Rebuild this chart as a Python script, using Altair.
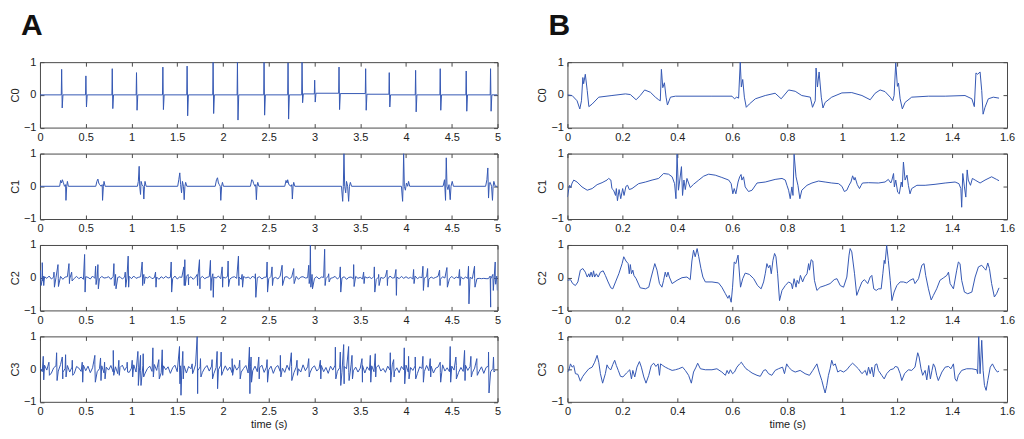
import altair as alt
import pandas as pd

# ---------------- tick values ----------------
X_TICKS_A = [0, 0.5, 1, 1.5, 2, 2.5, 3, 3.5, 4, 4.5, 5]
X_TICKS_B = [0, 0.2, 0.4, 0.6, 0.8, 1.0, 1.2, 1.4, 1.6]
Y_TICKS = [-1, 0, 1]
CHANNELS = ["C0", "C1", "C2", "C3"]
PANEL_LABELS = ["A", "B"]

# ---------------- Panel A (5 s) ----------------
# C0: spike times, peak, trough and baseline level after each spike
a_c0_t = [0.237, 0.502, 0.790, 1.055, 1.343, 1.608, 1.892, 2.158, 2.449, 2.711,
          2.864, 3.002, 3.268, 3.559, 3.817, 4.105, 4.374, 4.658, 4.924]
a_c0_peak = [0.78, 0.58, 0.80, 0.68, 0.85, 0.88, 1.00, 1.00, 1.00, 0.98,
             1.00, 0.45, 0.85, 0.80, 0.68, 0.75, 0.80, 0.73, 0.80]
a_c0_trough = [-0.40, -0.37, -0.42, -0.47, -0.45, -0.64, -0.57, -0.77, -0.62, -0.74,
               -0.24, -0.22, -0.45, -0.47, -0.37, -0.52, -0.47, -0.50, -0.50]
a_c0_base = [0, 0, 0, 0, 0, 0, 0, 0, 0, 0,
             0.03, 0.05, 0.04, 0.02, 0, 0, 0, 0, 0]

# C1: complexes (time, value)
a_c1 = [(0.0, 0.0),
        (0.215, 0.0), (0.226, 0.18), (0.236, 0.10), (0.245, 0.20), (0.255, 0.12), (0.268, 0.0), (0.280, 0.05), (0.284, -0.43), (0.292, 0.0), (0.300, 0.15), (0.310, 0.0),
        (0.610, 0.0), (0.622, 0.15), (0.633, 0.22), (0.642, 0.10), (0.652, 0.05), (0.668, 0.0), (0.680, 0.05), (0.684, -0.43), (0.693, 0.0), (0.700, 0.15), (0.712, 0.0),
        (1.065, 0.0), (1.075, 0.15), (1.084, 0.61), (1.090, 0.0), (1.099, -0.25), (1.105, 0.15), (1.115, 0.05), (1.128, 0.0), (1.135, -0.39), (1.142, 0.0), (1.148, 0.15), (1.160, 0.0),
        (1.505, 0.0), (1.517, 0.20), (1.528, 0.41), (1.537, 0.05), (1.547, -0.20), (1.557, 0.15), (1.568, 0.0), (1.576, -0.41), (1.584, 0.0), (1.592, 0.12), (1.605, 0.0),
        (1.915, 0.0), (1.929, 0.20), (1.940, 0.26), (1.950, 0.10), (1.960, 0.05), (1.970, 0.0), (1.976, -0.43), (1.985, 0.0), (1.994, 0.12), (2.005, 0.0),
        (2.300, 0.0), (2.314, 0.20), (2.325, 0.18), (2.335, 0.08), (2.350, 0.0), (2.358, 0.05), (2.365, -0.41), (2.372, 0.0), (2.380, 0.12), (2.392, 0.0),
        (2.675, 0.0), (2.689, 0.18), (2.700, 0.10), (2.707, 0.20), (2.720, 0.05), (2.745, 0.0), (2.752, 0.05), (2.758, -0.39), (2.766, 0.0), (2.773, 0.12), (2.785, 0.0),
        (3.295, 0.0), (3.308, -0.46), (3.315, 0.0), (3.322, 1.0), (3.330, 0.0), (3.341, -0.20), (3.350, 0.15), (3.362, 0.0), (3.373, -0.46), (3.382, 0.0), (3.392, 0.12), (3.405, 0.0),
        (3.950, 0.0), (3.963, -0.46), (3.968, 0.0), (3.974, 1.0), (3.982, 0.0), (3.993, -0.12), (4.005, 0.10), (4.018, 0.0), (4.028, 0.15), (4.040, 0.0),
        (4.405, 0.0), (4.421, 0.20), (4.432, -0.43), (4.440, 0.87), (4.448, 0.0), (4.458, -0.10), (4.470, 0.05), (4.483, -0.41), (4.492, 0.0), (4.505, 0.15), (4.518, 0.0),
        (4.870, 0.0), (4.884, 0.20), (4.894, 0.56), (4.902, -0.36), (4.910, 0.10), (4.920, 0.12), (4.935, 0.0), (4.945, -0.43), (4.952, 0.0), (4.960, 0.15), (4.975, 0.0), (5.0, 0.0)]

# C2: spikes (time, high, low) + background wiggle every 0.025 s
a_c2_t = [0.007, 0.025, 0.036, 0.153, 0.197, 0.317, 0.346, 0.488, 0.608, 0.633,
          0.808, 0.826, 0.932, 0.964, 1.117, 1.135, 1.263, 1.434, 1.572, 1.583,
          1.619, 1.718, 1.743, 1.863, 1.889, 1.991, 2.056, 2.169, 2.209, 2.354,
          2.482, 2.536, 2.646, 2.773, 2.937, 2.955, 2.973, 3.111, 3.155, 3.282,
          3.428, 3.537, 3.654, 3.701, 3.792, 3.890, 4.083, 4.185, 4.236, 4.367,
          4.447, 4.585, 4.683, 4.749, 4.920, 4.949, 4.975, 4.993]
a_c2_hi = [0.22, 0.46, 0.05, 0.17, 0.40, 0.43, 0.17, 0.71, 0.35, 0.40,
           0.43, 0.10, 0.17, 0.66, 0.48, 0.10, 0.17, 0.48, 0.33, 0.55,
           0.10, 0.10, 0.55, 0.53, 0.12, 0.33, 0.51, 0.66, 0.10, 0.12,
           0.48, 0.33, 0.38, 0.28, 0.38, 1.00, 0.10, 0.87, 0.12, 0.33,
           0.40, 0.17, 0.33, 0.10, 0.23, 0.25, 0.25, 0.35, 0.28, 0.23,
           0.31, 0.25, 0.35, 0.35, 0.05, 0.10, 0.48, 0.05]
a_c2_lo = [-0.24, -0.10, -0.24, -0.29, -0.27, -0.18, -0.10, -0.44, -0.21, -0.34,
           -0.24, -0.34, -0.29, -0.29, -0.24, -0.18, -0.29, -0.44, -0.24, -0.24,
           -0.22, -0.24, -0.34, -0.39, -0.60, -0.29, -0.27, -0.24, -0.29, -0.60,
           -0.44, -0.24, -0.24, -0.18, -0.18, -0.29, -0.34, -0.24, -0.13, -0.44,
           -0.27, -0.18, -0.44, -0.24, -0.24, -0.54, -0.18, -0.39, -0.29, -0.24,
           -0.29, -0.24, -0.80, -0.29, -0.90, -0.39, -0.20, -0.39]
a_c2_bg = [0.04, -0.06, 0.03, -0.02, 0.05, -0.04, 0.02, 0.00, -0.03, 0.04, -0.05, 0.02, 0.03, -0.04, 0.01, -0.02, 0.04, -0.03, 0.02, -0.05,
           0.03, 0.01, -0.04, 0.05, -0.02, 0.02, -0.03, 0.04, -0.01, 0.00, 0.03, -0.05, 0.04, -0.02, 0.01, 0.03, -0.04, 0.02, -0.01, 0.04,
           -0.03, 0.05, -0.02, 0.01, 0.03, -0.04, 0.02, -0.01, 0.04, -0.03, 0.00, 0.02, -0.05, 0.03, -0.02, 0.04, -0.01, 0.01, -0.03, 0.05,
           -0.04, 0.02, 0.01, -0.03, 0.04, -0.02, 0.03, -0.05, 0.02, 0.00, -0.02, 0.04, -0.03, 0.01, 0.03, -0.04, 0.02, -0.01, 0.05, -0.03,
           0.02, -0.01, 0.04, -0.04, 0.01, 0.03, -0.02, 0.02, -0.05, 0.04, -0.01, 0.02, -0.03, 0.05, -0.02, 0.00, 0.03, -0.04, 0.01, 0.02,
           -0.03, 0.04, -0.02, 0.01, -0.04, 0.05, -0.01, 0.02, 0.03, -0.03, 0.01, -0.02, 0.04, -0.05, 0.02, 0.03, -0.01, 0.00, -0.03, 0.04,
           -0.02, 0.03, -0.04, 0.02, 0.01, -0.03, 0.05, -0.02, 0.00, 0.04, -0.04, 0.02, -0.01, 0.03, -0.05, 0.01, 0.02, -0.03, 0.04, -0.02,
           0.01, -0.04, 0.03, -0.01, 0.02, -0.03, 0.04, -0.05, 0.02, 0.01, -0.02, 0.03, -0.04, 0.05, -0.01, 0.00, 0.02, -0.03, 0.04, -0.02,
           0.03, -0.02, 0.01, -0.04, 0.05, -0.03, 0.02, 0.00, -0.01, 0.03, -0.04, 0.02, -0.02, 0.01, 0.04, -0.05, 0.03, -0.01, 0.02, -0.03,
           0.04, -0.03, 0.02, -0.01, 0.03, -0.04, 0.02, -0.02, 0.01, -0.03, -0.02, -0.03, -0.02, -0.03, -0.02, -0.03, -0.03, -0.04, -0.03, -0.02]

# C3: spikes (time, high, low) + background noise every 0.025 s
a_c3_t = [0.036, 0.098, 0.182, 0.244, 0.280, 0.353, 0.462, 0.600, 0.662, 0.706,
          0.801, 0.862, 0.953, 1.008, 1.070, 1.099, 1.128, 1.234, 1.299, 1.336,
          1.525, 1.536, 1.561, 1.663, 1.718, 1.754, 1.881, 1.936, 1.980, 2.100,
          2.183, 2.289, 2.307, 2.391, 2.482, 2.627, 2.747, 2.809, 2.937, 3.064,
          3.228, 3.282, 3.319, 3.373, 3.410, 3.519, 3.610, 3.664, 3.828, 3.865,
          3.981, 4.028, 4.101, 4.185, 4.265, 4.374, 4.483, 4.545, 4.640, 4.709,
          4.774, 4.902, 4.956]
a_c3_hi = [0.39, 0.21, 0.50, 0.37, 0.44, 0.27, 0.21, 0.42, 0.34, 0.21,
           0.57, 0.27, 0.21, 0.27, 0.54, 0.42, 0.47, 0.65, 0.29, 0.59,
           0.69, 0.10, 0.54, 0.16, 1.00, 0.32, 0.29, 0.54, 0.52, 0.32,
           0.27, 0.67, 0.37, 0.37, 0.29, 0.42, 0.50, 0.27, 0.32, 0.27,
           0.67, 0.52, 0.75, 0.69, 0.42, 0.32, 0.42, 0.47, 0.50, 0.29,
           0.65, 0.39, 0.37, 0.39, 0.32, 0.21, 0.69, 0.37, 0.57, 0.39,
           0.32, 0.52, 0.37]
a_c3_lo = [-0.33, -0.19, -0.35, -0.30, -0.24, -0.19, -0.40, -0.40, -0.35, -0.30,
           -0.19, -0.19, -0.09, -0.24, -0.50, -0.50, -0.24, -0.24, -0.30, -0.19,
           -0.45, -0.80, -0.30, -0.14, -0.75, -0.24, -0.30, -0.60, -0.19, -0.19,
           -0.30, -0.75, -0.40, -0.30, -0.40, -0.24, -0.35, -0.19, -0.24, -0.30,
           -0.30, -0.50, -0.45, -0.35, -0.30, -0.40, -0.40, -0.24, -0.40, -0.24,
           -0.45, -0.30, -0.30, -0.40, -0.24, -0.40, -0.40, -0.30, -0.35, -0.24,
           -0.19, -0.73, -0.09]
a_c3_bg = [0.05, -0.08, 0.12, -0.03, 0.09, -0.12, 0.04, 0.10, -0.06, 0.14, -0.10, 0.02, 0.11, -0.09, 0.06, -0.13, 0.08, 0.03, -0.07, 0.12,
           -0.05, 0.09, -0.11, 0.04, 0.13, -0.08, 0.01, 0.10, -0.12, 0.06, -0.03, 0.11, -0.09, 0.07, -0.14, 0.05, 0.12, -0.04, 0.08, -0.10,
           0.03, 0.13, -0.09, 0.06, -0.05, 0.11, -0.12, 0.02, 0.09, -0.07, 0.14, -0.04, 0.05, -0.11, 0.10, -0.02, 0.07, -0.13, 0.04, 0.12,
           -0.08, 0.06, -0.03, 0.10, -0.12, 0.08, 0.01, -0.09, 0.13, -0.05, 0.07, -0.10, 0.03, 0.11, -0.06, 0.09, -0.14, 0.05, -0.02, 0.12,
           -0.07, 0.10, -0.04, 0.06, -0.11, 0.13, -0.03, 0.08, -0.09, 0.02, 0.11, -0.12, 0.07, -0.05, 0.09, -0.08, 0.04, 0.12, -0.10, 0.06,
           -0.02, 0.09, -0.13, 0.05, 0.11, -0.07, 0.03, -0.10, 0.12, -0.04, 0.08, -0.11, 0.06, 0.01, -0.09, 0.13, -0.05, 0.07, -0.12, 0.04,
           0.10, -0.06, 0.02, 0.11, -0.08, 0.05, -0.13, 0.09, -0.03, 0.12, -0.07, 0.04, -0.10, 0.08, 0.01, -0.11, 0.13, -0.05, 0.06, -0.09,
           0.03, 0.11, -0.12, 0.07, -0.04, 0.10, -0.08, 0.05, 0.12, -0.06, 0.02, -0.10, 0.09, -0.03, 0.13, -0.07, 0.04, -0.11, 0.08, -0.02,
           0.12, -0.09, 0.05, -0.04, 0.10, -0.13, 0.07, 0.02, -0.08, 0.11, -0.05, 0.09, -0.12, 0.03, 0.06, -0.10, 0.13, -0.06, 0.04, -0.08,
           0.09, -0.03, 0.11, -0.10, 0.05, -0.07, 0.12, -0.04, 0.08, -0.11, 0.03, 0.10, -0.06, 0.07, -0.13, 0.05, 0.09, -0.08, 0.02, -0.05]
BG_STEP = 0.025

# ---------------- Panel B (1.57 s) ----------------
b_c0 = [(0.000, 0.00), (0.017, -0.02), (0.035, -0.18), (0.045, -0.43), (0.051, -0.18), (0.056, 0.53), (0.059, 0.34), (0.065, 0.63),
        (0.072, 0.13), (0.078, -0.36), (0.090, -0.28), (0.114, -0.07), (0.162, -0.02), (0.211, 0.03), (0.229, 0.01), (0.250, -0.15),
        (0.265, -0.02), (0.281, 0.15), (0.302, 0.08), (0.320, -0.07), (0.332, -0.15), (0.338, -0.18), (0.342, 0.78), (0.347, 0.22),
        (0.353, 0.37), (0.359, -0.07), (0.364, -0.31), (0.375, -0.07), (0.393, -0.04), (0.526, -0.04), (0.599, -0.04), (0.608, -0.12),
        (0.616, -0.07), (0.623, -0.10), (0.629, 1.00), (0.633, 0.24), (0.638, 0.47), (0.644, -0.07), (0.651, -0.38), (0.662, -0.28),
        (0.684, -0.12), (0.720, -0.02), (0.756, 0.05), (0.778, -0.12), (0.805, 0.15), (0.829, 0.11), (0.853, -0.02), (0.884, -0.07),
        (0.892, -0.38), (0.902, -0.18), (0.905, 0.82), (0.910, 0.24), (0.916, 0.70), (0.924, -0.07), (0.930, -0.40), (0.938, -0.23),
        (0.962, -0.07), (0.999, 0.06), (1.035, 0.07), (1.072, -0.02), (1.102, -0.15), (1.120, 0.05), (1.138, 0.15), (1.156, 0.10),
        (1.175, -0.07), (1.184, -0.18), (1.189, -0.02), (1.195, 0.98), (1.201, 0.26), (1.205, 0.36), (1.211, -0.12), (1.219, -0.43),
        (1.229, -0.23), (1.253, -0.07), (1.314, -0.04), (1.375, -0.04), (1.447, -0.02), (1.472, -0.12), (1.481, -0.36), (1.487, 0.67),
        (1.493, 0.63), (1.502, 0.70), (1.508, 0.13), (1.513, -0.59), (1.520, -0.38), (1.532, -0.12), (1.550, -0.07), (1.571, -0.10)]

b_c1 = [(0.000, -0.33), (0.005, -0.07), (0.008, 0.03), (0.012, -0.04), (0.017, 0.10), (0.023, 0.19), (0.035, 0.13), (0.053, -0.02),
        (0.072, -0.12), (0.090, -0.07), (0.108, 0.05), (0.126, 0.11), (0.144, 0.19), (0.150, 0.24), (0.158, 0.19), (0.162, -0.07),
        (0.168, -0.12), (0.175, -0.28), (0.178, -0.07), (0.182, -0.44), (0.188, -0.10), (0.194, -0.38), (0.201, -0.07), (0.206, -0.28),
        (0.213, 0.00), (0.219, 0.03), (0.225, -0.10), (0.235, -0.07), (0.259, 0.08), (0.284, 0.13), (0.308, 0.19), (0.332, 0.24),
        (0.350, 0.39), (0.368, 0.37), (0.381, 0.29), (0.390, 0.08), (0.395, -0.38), (0.399, 0.98), (0.404, -0.12), (0.408, 0.13),
        (0.415, 0.60), (0.419, -0.28), (0.424, 0.19), (0.429, -0.10), (0.435, 0.24), (0.447, -0.04), (0.459, 0.06), (0.478, 0.19),
        (0.496, 0.31), (0.514, 0.37), (0.538, 0.34), (0.562, 0.27), (0.587, 0.19), (0.596, 0.08), (0.602, -0.23), (0.607, -0.07),
        (0.613, -0.23), (0.621, 0.13), (0.627, 0.29), (0.632, 0.36), (0.635, 0.19), (0.641, 0.29), (0.647, -0.02), (0.659, -0.16),
        (0.672, -0.12), (0.690, 0.10), (0.720, 0.13), (0.756, 0.21), (0.781, 0.24), (0.793, 0.19), (0.799, 0.03), (0.805, -0.12),
        (0.811, -0.38), (0.817, -0.02), (0.821, -0.28), (0.825, 0.98), (0.832, 0.29), (0.839, 0.03), (0.846, -0.38), (0.853, -0.12),
        (0.872, 0.03), (0.890, 0.10), (0.914, 0.16), (0.938, 0.13), (0.962, 0.10), (0.987, 0.08), (0.999, 0.00), (1.008, -0.16),
        (1.017, -0.12), (1.025, 0.03), (1.032, 0.13), (1.038, 0.32), (1.044, 0.19), (1.047, 0.27), (1.055, 0.05), (1.063, -0.07),
        (1.069, 0.03), (1.074, 0.10), (1.096, 0.11), (1.132, 0.10), (1.156, 0.13), (1.168, 0.21), (1.177, 0.10), (1.181, 0.19),
        (1.187, 0.39), (1.190, -0.02), (1.195, 0.19), (1.202, -0.18), (1.208, -0.23), (1.215, 0.13), (1.219, -0.02), (1.223, 0.74),
        (1.229, 0.19), (1.236, 0.34), (1.241, 0.03), (1.247, -0.23), (1.253, -0.07), (1.272, 0.03), (1.302, 0.03), (1.338, 0.06),
        (1.375, 0.10), (1.411, 0.13), (1.425, 0.08), (1.432, -0.07), (1.435, -0.64), (1.439, 0.39), (1.445, -0.02), (1.450, -0.33),
        (1.455, 0.50), (1.459, 0.19), (1.467, 0.03), (1.474, 0.24), (1.484, 0.19), (1.502, 0.10), (1.520, 0.19), (1.544, 0.29),
        (1.562, 0.21), (1.571, 0.17)]

b_c2 = [(0.000, -0.08), (0.011, -0.06), (0.019, -0.18), (0.029, -0.24), (0.038, -0.13), (0.047, 0.23), (0.056, 0.28), (0.065, 0.17),
        (0.072, 0.02), (0.078, 0.12), (0.081, 0.02), (0.086, 0.17), (0.091, 0.02), (0.095, 0.21), (0.099, 0.02), (0.105, 0.12),
        (0.112, 0.02), (0.120, 0.17), (0.130, 0.21), (0.138, 0.07), (0.148, -0.13), (0.158, -0.31), (0.165, -0.34), (0.175, -0.13),
        (0.187, 0.12), (0.199, 0.43), (0.205, 0.64), (0.213, 0.51), (0.221, 0.43), (0.225, 0.12), (0.229, 0.40), (0.233, 0.12),
        (0.238, 0.23), (0.242, 0.07), (0.250, -0.03), (0.265, -0.31), (0.284, -0.34), (0.296, -0.29), (0.305, 0.02), (0.318, 0.43),
        (0.326, 0.23), (0.335, -0.18), (0.344, -0.29), (0.350, -0.08), (0.356, 0.17), (0.361, 0.02), (0.366, 0.17), (0.371, 0.02),
        (0.381, -0.18), (0.399, -0.08), (0.417, 0.00), (0.435, 0.02), (0.447, -0.06), (0.453, 0.51), (0.459, 0.84), (0.465, 0.64),
        (0.472, 0.89), (0.478, 0.64), (0.486, 0.28), (0.493, 0.02), (0.502, -0.13), (0.526, -0.13), (0.550, -0.16), (0.562, -0.29),
        (0.575, -0.49), (0.584, -0.63), (0.589, -0.54), (0.596, -0.75), (0.601, -0.29), (0.607, 0.48), (0.613, 0.43), (0.621, 0.69),
        (0.627, 0.02), (0.630, -0.29), (0.638, -0.03), (0.647, 0.14), (0.662, 0.10), (0.678, -0.03), (0.692, -0.24), (0.705, -0.34),
        (0.714, -0.13), (0.720, 0.12), (0.726, 0.43), (0.732, 0.30), (0.737, 0.38), (0.742, 0.12), (0.748, 0.53), (0.754, 0.74),
        (0.759, 0.64), (0.765, 0.12), (0.772, -0.70), (0.781, -0.39), (0.793, -0.24), (0.805, -0.13), (0.815, -0.18), (0.819, -0.34),
        (0.825, -0.03), (0.832, -0.29), (0.836, -0.08), (0.842, -0.18), (0.848, 0.07), (0.856, -0.13), (0.863, 0.02), (0.872, 0.12),
        (0.878, 0.43), (0.881, 0.23), (0.887, 0.55), (0.893, 0.51), (0.899, -0.08), (0.908, -0.39), (0.920, -0.29), (0.938, -0.24),
        (0.956, -0.18), (0.971, -0.06), (0.981, -0.03), (0.993, -0.24), (1.005, -0.29), (1.017, 0.02), (1.025, 0.69), (1.029, 0.89),
        (1.035, 0.79), (1.045, 0.12), (1.053, -0.54), (1.062, -0.34), (1.072, -0.13), (1.081, -0.06), (1.093, -0.18), (1.102, 0.02),
        (1.108, 0.07), (1.115, -0.34), (1.124, -0.39), (1.132, -0.34), (1.142, -0.34), (1.148, 0.12), (1.153, 0.53), (1.156, 0.43),
        (1.162, 0.99), (1.168, 0.53), (1.175, -0.08), (1.181, -0.70), (1.189, -0.44), (1.199, -0.24), (1.211, -0.13), (1.223, -0.13),
        (1.235, -0.16), (1.247, -0.08), (1.259, -0.03), (1.265, -0.18), (1.278, -0.03), (1.290, 0.38), (1.298, 0.43), (1.304, 0.07),
        (1.314, -0.34), (1.324, -0.68), (1.332, -0.54), (1.344, -0.34), (1.356, -0.08), (1.368, -0.01), (1.381, 0.07), (1.387, 0.17),
        (1.393, -0.18), (1.405, -0.34), (1.417, 0.23), (1.423, 0.48), (1.429, 0.43), (1.435, -0.08), (1.445, -0.44), (1.457, -0.49),
        (1.472, -0.44), (1.484, 0.02), (1.496, 0.33), (1.508, 0.38), (1.518, 0.28), (1.523, 0.23), (1.530, 0.45), (1.536, 0.28),
        (1.544, -0.18), (1.554, -0.59), (1.562, -0.49), (1.571, -0.31)]

b_c3 = [(0.000, -0.09), (0.005, -0.04), (0.011, 0.16), (0.017, 0.06), (0.023, 0.11), (0.029, -0.14), (0.038, -0.16), (0.047, -0.37),
        (0.056, -0.22), (0.065, -0.12), (0.078, 0.01), (0.090, 0.06), (0.099, 0.21), (0.108, 0.42), (0.114, 0.21), (0.120, -0.14),
        (0.128, -0.43), (0.138, -0.14), (0.144, 0.13), (0.150, 0.03), (0.158, -0.02), (0.165, 0.14), (0.172, 0.27), (0.178, 0.11),
        (0.185, -0.04), (0.193, -0.22), (0.202, -0.24), (0.215, -0.12), (0.227, -0.02), (0.233, -0.30), (0.238, -0.04), (0.245, -0.24),
        (0.253, 0.06), (0.262, 0.23), (0.269, 0.06), (0.278, -0.24), (0.286, -0.43), (0.296, -0.19), (0.305, 0.11), (0.314, 0.18),
        (0.322, 0.08), (0.330, 0.16), (0.335, -0.19), (0.339, 0.16), (0.347, 0.11), (0.356, 0.06), (0.368, 0.01), (0.381, -0.04),
        (0.393, -0.02), (0.405, 0.01), (0.419, 0.06), (0.429, -0.04), (0.441, -0.19), (0.451, -0.43), (0.459, -0.09), (0.468, 0.06),
        (0.474, 0.18), (0.484, 0.01), (0.502, -0.02), (0.526, -0.02), (0.544, 0.01), (0.562, -0.09), (0.575, -0.19), (0.581, -0.04),
        (0.587, -0.14), (0.593, -0.02), (0.601, -0.14), (0.608, -0.09), (0.617, 0.06), (0.627, 0.16), (0.633, 0.21), (0.641, 0.11),
        (0.650, 0.01), (0.659, -0.04), (0.672, -0.12), (0.690, -0.19), (0.702, -0.22), (0.714, -0.04), (0.722, -0.02), (0.732, -0.14),
        (0.744, -0.19), (0.756, -0.04), (0.768, 0.01), (0.783, 0.06), (0.790, -0.14), (0.798, 0.16), (0.805, 0.06), (0.817, -0.04),
        (0.829, -0.09), (0.847, -0.04), (0.865, -0.14), (0.881, -0.19), (0.893, -0.04), (0.908, 0.16), (0.916, -0.09), (0.926, -0.35),
        (0.932, -0.55), (0.938, -0.73), (0.944, -0.50), (0.950, -0.19), (0.956, 0.01), (0.962, 0.27), (0.968, 0.11), (0.975, 0.16),
        (0.984, -0.09), (0.993, -0.04), (1.005, -0.09), (1.017, -0.02), (1.029, 0.11), (1.038, 0.18), (1.047, 0.11), (1.059, 0.01),
        (1.072, -0.14), (1.084, -0.04), (1.090, -0.19), (1.096, 0.06), (1.102, -0.14), (1.108, 0.06), (1.114, -0.24), (1.120, 0.13),
        (1.126, 0.16), (1.132, -0.04), (1.144, -0.19), (1.153, -0.30), (1.162, -0.14), (1.175, -0.02), (1.187, 0.01), (1.193, 0.08),
        (1.202, 0.06), (1.211, -0.14), (1.217, -0.35), (1.227, -0.14), (1.241, -0.02), (1.253, -0.04), (1.265, 0.06), (1.275, 0.50),
        (1.280, 0.37), (1.287, 0.01), (1.293, -0.19), (1.302, -0.04), (1.308, -0.33), (1.315, 0.11), (1.321, -0.30), (1.327, -0.04),
        (1.332, 0.16), (1.338, 0.06), (1.344, -0.19), (1.350, -0.35), (1.363, -0.09), (1.375, 0.06), (1.387, 0.08), (1.396, 0.01),
        (1.405, 0.16), (1.411, -0.30), (1.417, -0.37), (1.423, -0.19), (1.435, -0.04), (1.453, 0.01), (1.472, 0.01), (1.490, -0.02),
        (1.493, -0.14), (1.497, 1.00), (1.502, -0.14), (1.508, 0.88), (1.513, -0.04), (1.518, -0.50), (1.524, -0.65), (1.530, -0.35),
        (1.539, 0.06), (1.547, 0.16), (1.556, 0.01), (1.565, -0.09), (1.571, -0.06)]


# ---------------- table builders ----------------
def table_c0(ts, peaks, troughs, bases, t_end):
    rows = [(0.0, 0.0)]
    prev = 0.0
    for t, pk, tr, b in zip(ts, peaks, troughs, bases):
        rows += [(t - 0.004, prev), (t, pk), (t + 0.006, tr), (t + 0.014, b)]
        prev = b
    rows.append((t_end, prev))
    return pd.DataFrame(rows, columns=["t", "v"])


def table_spikes(ts, his, los, bg, step):
    rows = [(i * step, v) for i, v in enumerate(bg)]
    for t, h, l in zip(ts, his, los):
        rows += [(t, h), (t + 0.005, l)]
    rows.sort(key=lambda r: r[0])
    return pd.DataFrame(rows, columns=["t", "v"])


def table_pairs(pairs):
    return pd.DataFrame(pairs, columns=["t", "v"])


LINE_COLOR = "#3558b4"
FRAME = "#4a4a4a"
W_A, W_B, H = 458, 440, 65.5


def panel(df, name, xdom, xticks, width, bottom, label=None):
    xs = alt.Scale(domain=xdom, nice=False, zero=False)
    ys = alt.Scale(domain=[-1, 1], nice=False, zero=False)
    xaxis_kw = dict(values=xticks, format=".1~f", orient="bottom", offset=-4, tickSize=4,
                    labelPadding=4, domain=False, grid=False, labelFlush=False)
    if bottom:
        xaxis_kw["title"] = "time (s)"
        xaxis_kw["titlePadding"] = 2
    else:
        xaxis_kw["title"] = None
    main = alt.Chart(df).mark_line(color=LINE_COLOR, strokeWidth=1, clip=True).encode(
        x=alt.X("t:Q", scale=xs, axis=alt.Axis(**xaxis_kw)),
        y=alt.Y("v:Q", scale=ys, axis=alt.Axis(values=Y_TICKS, format="~f", orient="left", offset=-4,
                                               tickSize=4, labelPadding=4, domain=False, grid=False,
                                               title=name, titlePadding=3, labelFlush=False)),
        order="t:Q",
    )
    ghost = alt.Chart(df).mark_line(strokeOpacity=0).encode(
        x=alt.X("t:Q", scale=xs, axis=alt.Axis(values=xticks, orient="top", offset=-4, tickSize=4,
                                               labels=False, domain=False, grid=False, title=None)),
        y=alt.Y("v:Q", scale=ys, axis=alt.Axis(values=Y_TICKS, orient="right", offset=-4, tickSize=4,
                                               labels=False, domain=False, grid=False, title=None)),
        order="t:Q",
    )
    layers = [main, ghost]
    if label:
        txt = alt.Chart(pd.DataFrame({"lab": [label]})).mark_text(
            align="left", baseline="alphabetic", font="Liberation Sans", fontSize=30,
            fontWeight="bold", color="#111111"
        ).encode(text="lab:N", x=alt.value(-19), y=alt.value(-27.5))
        layers.append(txt)
    return alt.layer(*layers).resolve_axis(x="independent", y="independent").properties(width=width, height=H)


data_a = [
    table_c0(a_c0_t, a_c0_peak, a_c0_trough, a_c0_base, 5.0),
    table_pairs(a_c1),
    table_spikes(a_c2_t, a_c2_hi, a_c2_lo, a_c2_bg, BG_STEP),
    table_spikes(a_c3_t, a_c3_hi, a_c3_lo, a_c3_bg, BG_STEP),
]
data_b = [table_pairs(b_c0), table_pairs(b_c1), table_pairs(b_c2), table_pairs(b_c3)]

cells = []
for i, name in enumerate(CHANNELS):
    cells.append(panel(data_a[i], name, [0, 5], X_TICKS_A, W_A, i == 3, PANEL_LABELS[0] if i == 0 else None))
    cells.append(panel(data_b[i], name, [0, 1.6], X_TICKS_B, W_B, i == 3, PANEL_LABELS[1] if i == 0 else None))

chart = alt.concat(*cells, columns=2, spacing={"row": 25.5, "column": 70}, bounds="flush").properties(
    padding={"left": 0, "top": 2, "right": 0, "bottom": 0},
    background="white",
).configure_view(
    stroke=FRAME, strokeWidth=1
).configure_axis(
    labelFont="Liberation Sans", labelFontSize=11, labelColor="#222222",
    titleFont="Liberation Sans", titleFontSize=11, titleFontWeight="normal", titleColor="#222222",
    tickColor=FRAME, tickWidth=1,
)

chart.save("out.html", embed_options={"renderer": "svg", "actions": False})
